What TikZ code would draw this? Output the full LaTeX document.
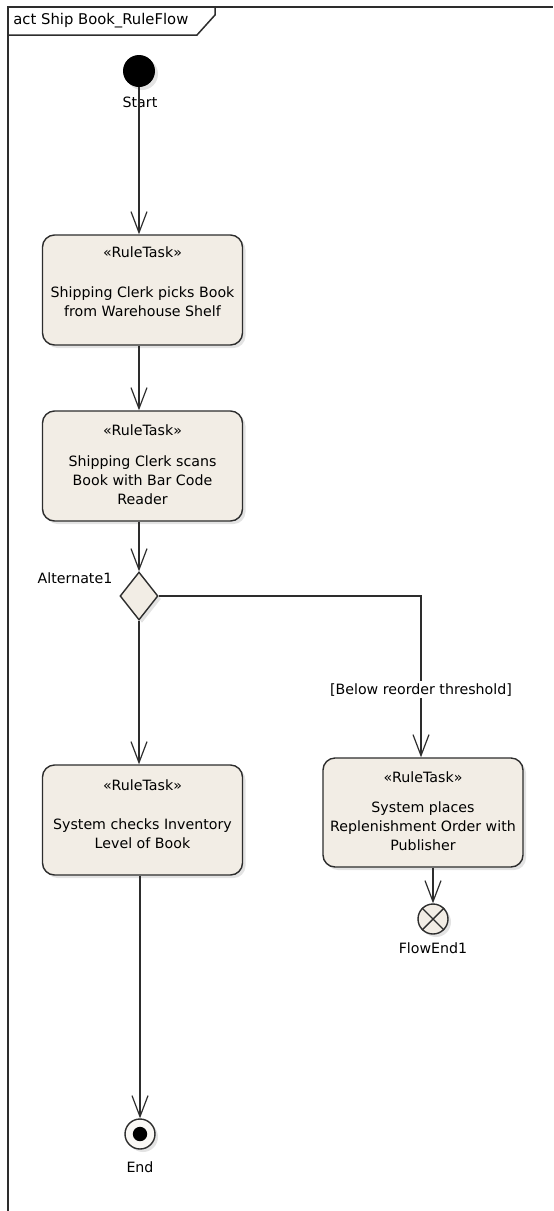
\documentclass[tikz,border=0pt]{standalone}
\usepackage{fontspec}
\setmainfont{DejaVu Sans}
\usetikzlibrary{arrows.meta,shapes.geometric,shadows}
\definecolor{taskfill}{RGB}{242,237,229}
\definecolor{edge}{RGB}{45,45,45}
\begin{document}
\begin{tikzpicture}[x=0.5pt,y=-0.5pt,
  every node/.style={font=\fontsize{7.1}{9.5}\selectfont, text=black},
  flow/.style={draw=edge, line width=0.6pt,
    -{Straight Barb[length=10.5pt,width=8pt,line width=0.6pt]}},
  softshadow/.style={drop shadow={shadow xshift=1.5pt, shadow yshift=-1.5pt, opacity=0.22}},
  task/.style={draw=edge, line width=0.7pt, fill=taskfill, rounded corners=6pt,
    minimum width=100pt, minimum height=55pt, inner sep=0pt, softshadow},
  tasktext/.style={align=center, inner sep=0pt},
  frameline/.style={draw=edge, line width=0.75pt}
]
\useasboundingbox (0,0) rectangle (553,1211);

% diagram frame and its name tab
\draw[frameline] (8,1211) -- (8,7) -- (553,7);
\draw[frameline] (8,35) -- (197,35) -- (215,15) -- (215,7);
\node[anchor=west, inner sep=0pt, font=\fontsize{7.4}{9}\selectfont] (title) at (13,21) {act Ship Book\_RuleFlow};

% initial node
\node[circle, fill=black, minimum size=16pt, inner sep=0pt, softshadow] (start) at (139,71) {};
\node (startlbl) at (140,102) {Start};

% rule tasks
\node[task] (b1) at (142.5,290) {};
\node[tasktext] (b1s) at (142.5,252) {«RuleTask»};
\node[tasktext] (b1t) at (142.5,302) {Shipping Clerk picks Book\\from Warehouse Shelf};

\node[task] (b2) at (142.5,466) {};
\node[tasktext] (b2s) at (142.5,430) {«RuleTask»};
\node[tasktext] (b2t) at (142.5,480) {Shipping Clerk scans\\Book with Bar Code\\Reader};

\node[task] (b3) at (142.5,820) {};
\node[tasktext] (b3s) at (142.5,785) {«RuleTask»};
\node[tasktext] (b3t) at (142.5,834) {System checks Inventory\\Level of Book};

\node[task, minimum height=54.5pt] (b4) at (423,812.5) {};
\node[tasktext] (b4s) at (423,777) {«RuleTask»};
\node[tasktext] (b4t) at (423,826) {System places\\Replenishment Order with\\Publisher};

% decision
\node[diamond, draw=edge, fill=taskfill, line width=0.7pt, minimum width=19pt,
      minimum height=24pt, inner sep=0pt, softshadow] (alt) at (139,596) {};
\node (altlbl) at (75,578) {Alternate1};

% flow final
\node[circle, draw=edge, fill=taskfill, line width=0.7pt, minimum size=15pt,
      inner sep=0pt, softshadow] (fe) at (433,919) {};
\draw[edge, line width=0.7pt] (fe.north east) -- (fe.south west)
                              (fe.north west) -- (fe.south east);
\node (felbl) at (433,948) {FlowEnd1};

% activity final
\node[circle, draw=edge, fill=white!60!taskfill, line width=0.7pt, minimum size=15pt,
      inner sep=0pt, softshadow] (end) at (140,1134) {};
\fill[black] (end.center) circle (3.6pt);
\node (endlbl) at (140,1167) {End};

% control flows
\draw[flow] (start) -- (start |- b1.north);
\draw[flow] (b1.south -| start) -- (b2.north -| start);
\draw[flow] (b2.south -| start) -- (alt.north);
\draw[flow] (alt.south) -- (b3.north -| alt);
\draw[flow] (alt.east) -| node[pos=0.79, fill=white, inner sep=1pt] (guard) {[Below reorder threshold]}
            ([xshift=-1pt]b4.north);
\draw[flow] (b3.south -| end) -- (end);
\draw[flow] (b4.south -| fe) -- (fe);
\end{tikzpicture}
\end{document}
